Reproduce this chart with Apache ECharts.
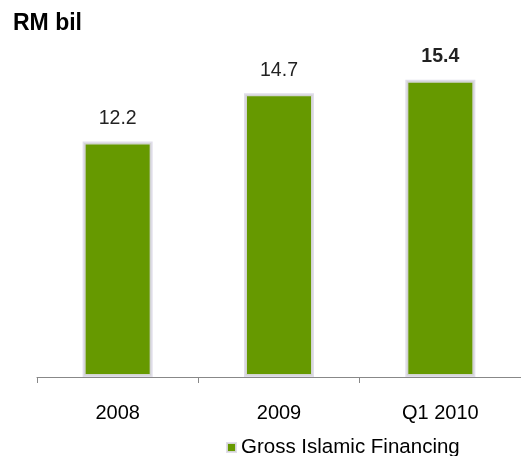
<!DOCTYPE html>
<html>
<head>
<meta charset="utf-8">
<script src="https://cdn.jsdelivr.net/npm/echarts@6/dist/echarts.min.js"></script>
<style>
  html, body { margin: 0; padding: 0; background: #fff; }
  #chart { width: 521px; height: 456px; }
</style>
</head>
<body>
<div id="chart"></div>
<script>
// 数据
const categories = ['2008', '2009', 'Q1 2010']
const financing = [12.2, 14.7, 15.4]
const boldIndex = 2  // 最后一个标签加粗

let chart = echarts.init(document.getElementById('chart'))

let seriesData = financing.map((v, i) => {
  return {
    value: v,
    label: { fontWeight: i === boldIndex ? 'bold' : 'normal' }
  }
})

let option = {
  animation: false,
  title: {
    text: 'RM bil',
    left: 8,
    top: 7,
    textStyle: { fontFamily: 'Liberation Sans', fontSize: 23, fontWeight: 'bold', color: '#000' }
  },
  legend: {
    data: [{ name: 'Gross Islamic Financing', icon: 'rect' }],
    left: 221,
    top: 432,
    padding: 5,
    itemWidth: 9,
    itemHeight: 9,
    itemGap: 5,
    textStyle: { fontFamily: 'Liberation Sans', fontSize: 20.5, color: '#000' }
  },
  grid: {
    left: 37,
    top: 29.6,
    width: 489,
    height: 347.4,
    containLabel: false
  },
  xAxis: {
    type: 'category',
    data: categories,
    z: 5,
    axisLine: { lineStyle: { color: '#888', width: 1 } },
    axisTick: { show: true, length: 6, lineStyle: { color: '#888' } },
    axisLabel: { margin: 26, fontFamily: 'Liberation Sans', fontSize: 20, color: '#000' }
  },
  yAxis: {
    type: 'value',
    min: 0,
    max: 18,
    show: false,
    splitLine: { show: false }
  },
  series: [{
    name: 'Gross Islamic Financing',
    type: 'bar',
    barWidth: 70,
    data: seriesData,
    itemStyle: {
      color: '#669900',
      borderColor: 'rgba(222,218,232,0.9)',
      borderWidth: 3
    },
    label: {
      show: true,
      position: 'top',
      distance: 13,
      fontFamily: 'Liberation Sans',
      fontSize: 19.5,
      color: '#222'
    }
  }]
}
chart.setOption(option)
</script>
</body>
</html>
